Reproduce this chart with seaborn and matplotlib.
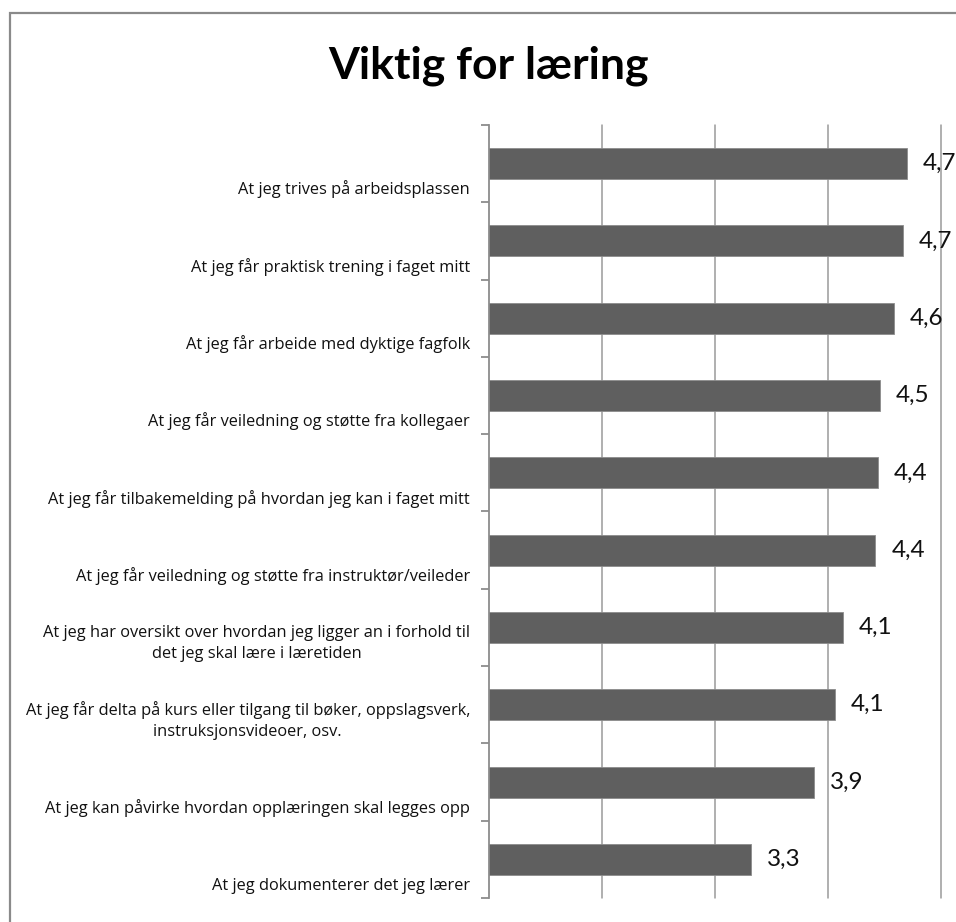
import numpy as np
import pandas as pd
import matplotlib
matplotlib.use("Agg")
import matplotlib.pyplot as plt
from matplotlib.patches import Rectangle
import seaborn as sns

categories = [
    "At jeg trives på arbeidsplassen",
    "At jeg får praktisk trening i faget mitt",
    "At jeg får arbeide med dyktige fagfolk",
    "At jeg får veiledning og støtte fra kollegaer",
    "At jeg får tilbakemelding på hvordan jeg kan i faget mitt",
    "At jeg får veiledning og støtte fra instruktør/veileder",
    "At jeg har oversikt over hvordan jeg ligger an i forhold til\ndet jeg skal lære i læretiden",
    "At jeg får delta på kurs eller tilgang til bøker, oppslagsverk,\ninstruksjonsvideoer, osv.",
    "At jeg kan påvirke hvordan opplæringen skal legges opp",
    "At jeg dokumenterer det jeg lærer",
]
scores = [4.70, 4.66, 4.58, 4.46, 4.44, 4.42, 4.13, 4.06, 3.88, 3.32]
title = "Viktig for læring"
x_min, x_max = 1, 5
grid_values = [2, 3, 4, 5]

df = pd.DataFrame({"kategori": categories, "snitt": scores})

sns.set_theme(style="white")
plt.rcParams["font.family"] = ["Lato", "DejaVu Sans"]

W, H, DPI = 956, 922, 100
fig = plt.figure(figsize=(W / DPI, H / DPI), dpi=DPI)
ax = fig.add_axes([489 / W, 1 - 898 / H, (941 - 489) / W, (898 - 125) / H])

sns.barplot(data=df, y="kategori", x="snitt", orient="h", ax=ax,
            color="#5f5f5f", saturation=1, width=0.4,
            edgecolor="#8c8c8c", linewidth=0.6)

ax.set_xlim(x_min, x_max)
ax.set_ylim(len(categories) - 0.5, -0.5)
ax.set_xlabel("")
ax.set_ylabel("")

# vertical gridlines
for g in grid_values:
    ax.axvline(g, color="#9a9a9a", lw=1.1, zorder=0, clip_on=False)

for side in ["top", "right", "bottom"]:
    ax.spines[side].set_visible(False)
ax.spines["left"].set_color("#8c8c8c")
ax.spines["left"].set_linewidth(1.3)

ax.set_xticks([])
ax.set_yticks(np.arange(-0.5, len(categories), 1.0))
ax.set_yticklabels([])
ax.tick_params(axis="y", length=6, width=1.3, color="#8c8c8c", direction="out", left=True)

# category labels, bottom-aligned below the bar of each band
for i, lab in enumerate(categories):
    ax.text(-0.042, i + 0.45, lab, transform=ax.get_yaxis_transform(),
            ha="right", va="bottom", multialignment="center",
            fontsize=11.8, color="#111111", family=["Open Sans", "DejaVu Sans"],
            linespacing=1.4)

# value labels
for i, v in enumerate(scores):
    ax.annotate(f"{v:.1f}".replace(".", ","), xy=(v, i), xytext=(11.5, 0),
                textcoords="offset points", ha="left", va="center",
                fontsize=17.5, color="#111111", annotation_clip=False)

fig.text(489 / W, 1 - 78 / H, title, ha="center", va="baseline",
         fontsize=32, fontweight="bold", color="#000000")

# chart frame
fig.add_artist(Rectangle((10 / W, -0.1), 2, 0.1 + (1 - 13.5 / H),
                         transform=fig.transFigure, fill=False,
                         edgecolor="#8a8a8a", lw=1.6, clip_on=False))

fig.savefig("out.png", dpi=DPI, facecolor="white")
